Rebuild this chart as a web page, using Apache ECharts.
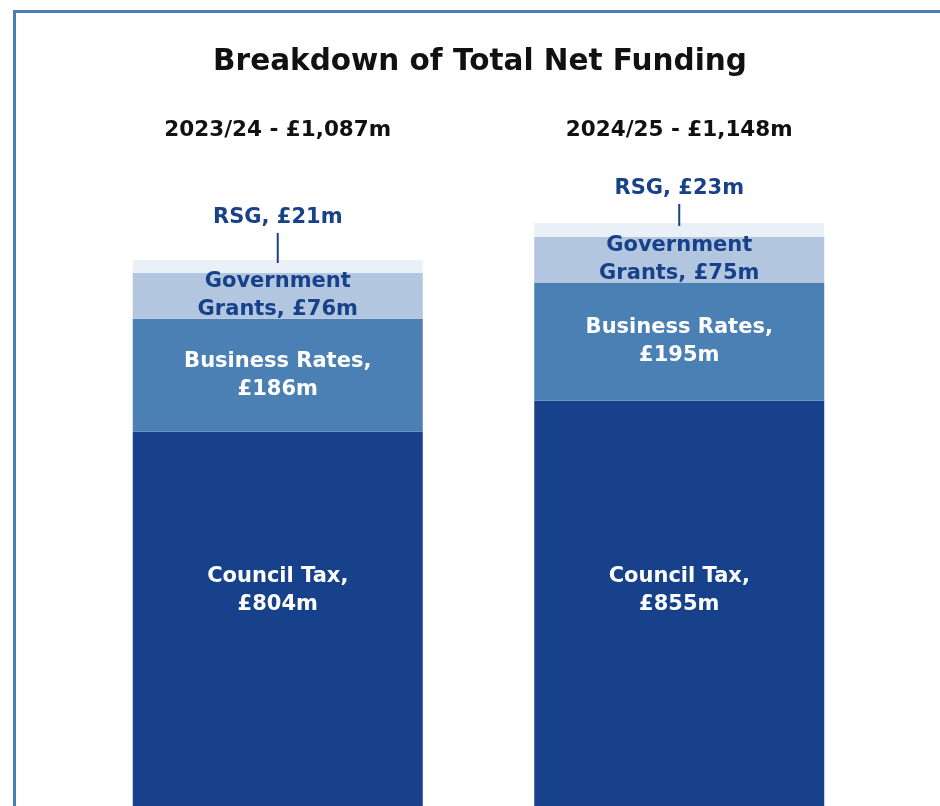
<!DOCTYPE html>
<html><head><meta charset="utf-8">
<script src="https://cdn.jsdelivr.net/npm/echarts@6/dist/echarts.min.js"></script>
<style>
html,body{margin:0;padding:0;background:#fff;overflow:hidden;width:940px;height:806px;}
#frame{position:absolute;left:13px;top:10px;width:1200px;height:1200px;border-left:3px solid #4a7fb5;border-top:3px solid #4a7fb5;box-sizing:border-box;}
#chart{position:absolute;left:0;top:0;width:940px;height:920px;}
</style></head>
<body>
<div id="frame"></div>
<div id="chart"></div>
<script>
const years = ['2023/24', '2024/25'];
const councilTax = [804, 855];
const businessRates = [186, 195];
const govGrants = [76, 75];
const rsg = [21, 23];

const NAVY = '#17418a';
const FONT = 'DejaVu Sans';
const totals = years.map((_, i) => councilTax[i] + businessRates[i] + govGrants[i] + rsg[i]);
const money = v => '£' + v.toLocaleString('en-GB') + 'm';

const ctLabelDy = [-85, -70];
const rsgLineLen = [30, 22];

const chart = echarts.init(document.getElementById('chart'));
const segLabel = (color) => ({
  show: true, position: 'inside', color: color, fontFamily: FONT, fontWeight: 'bold',
  fontSize: 21, lineHeight: 28
});
chart.setOption({
  animation: false,
  graphic: [{
    type: 'text', x: 480, y: 62,
    style: { text: 'Breakdown of Total Net Funding', fill: '#111', font: 'bold 29.5px "DejaVu Sans"', textAlign: 'center', textVerticalAlign: 'middle' }
  }],
  grid: { left: 77, right: 60, top: 161, bottom: 0 },
  xAxis: {
    type: 'category', position: 'top', data: years,
    axisLine: { show: false }, axisTick: { show: false },
    axisLabel: {
      margin: 20, color: '#111', fontFamily: FONT, fontWeight: 'bold', fontSize: 21.5,
      formatter: (v, i) => v + ' - ' + money(totals[i])
    }
  },
  yAxis: { type: 'value', min: 0, max: 1250, show: false, splitLine: { show: false } },
  series: [
    {
      name: 'Council Tax', type: 'bar', stack: 't', barWidth: 290,
      itemStyle: { color: NAVY },
      data: councilTax.map((v, i) => ({ value: v, label: { offset: [0, ctLabelDy[i]] } })),
      label: Object.assign(segLabel('#fff'), { formatter: p => 'Council Tax,\n' + money(p.value) })
    },
    {
      name: 'Business Rates', type: 'bar', stack: 't',
      itemStyle: { color: '#4b80b5' },
      data: businessRates,
      label: Object.assign(segLabel('#fff'), { formatter: p => 'Business Rates,\n' + money(p.value) })
    },
    {
      name: 'Government Grants', type: 'bar', stack: 't',
      itemStyle: { color: '#b3c6e0' },
      data: govGrants,
      label: Object.assign(segLabel(NAVY), { formatter: p => 'Government\nGrants, ' + money(p.value) })
    },
    {
      name: 'RSG', type: 'bar', stack: 't',
      itemStyle: { color: '#e9f0f8' },
      data: rsg.map((v, i) => ({
        value: v,
        label: { rich: { t: { fontSize: 21, lineHeight: 30, color: NAVY, fontFamily: FONT, fontWeight: 'bold' },
                         l: { width: 2, height: rsgLineLen[i], backgroundColor: NAVY } } }
      })),
      label: { show: true, position: 'top', distance: -3, formatter: p => '{t|RSG, ' + money(p.value) + '}\n{l|}' }
    }
  ]
});
</script>
</body></html>
